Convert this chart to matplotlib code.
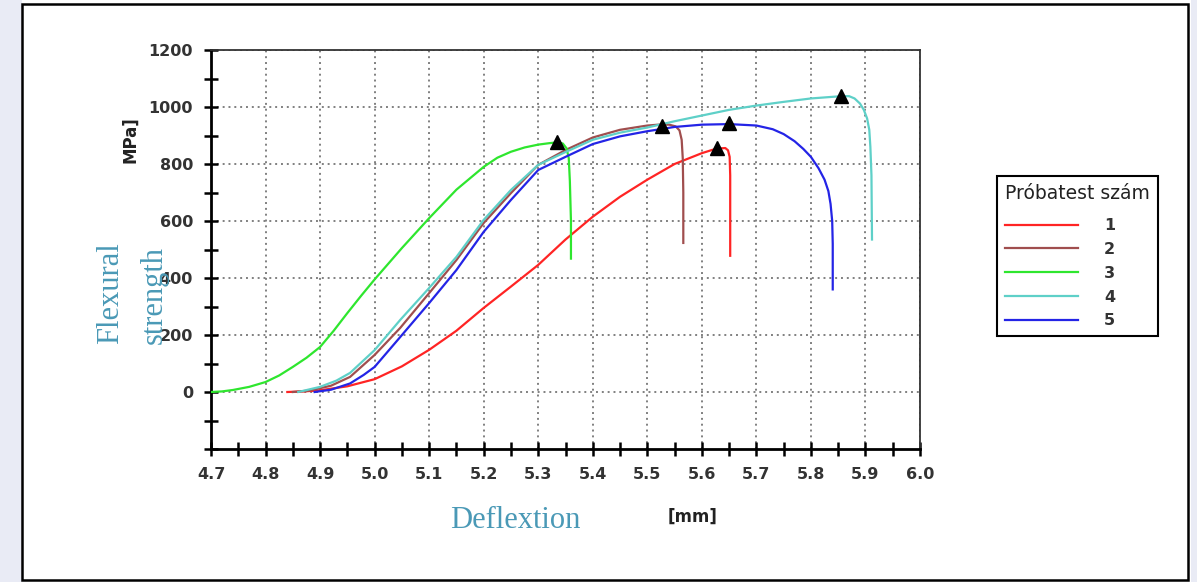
from matplotlib import pyplot as plt
from matplotlib.patches import Rectangle
from matplotlib.ticker import MultipleLocator, FormatStrFormatter

# specimen curves: deflection [mm] vs stress [MPa]
x1 = [4.84, 4.87, 4.90, 4.95, 5.00, 5.05, 5.10, 5.15, 5.20, 5.25, 5.30, 5.35, 5.40,
      5.45, 5.50, 5.55, 5.60, 5.62, 5.635, 5.643, 5.648, 5.651, 5.652, 5.652]
y1 = [0, 2, 6, 20, 45, 90, 148, 215, 295, 370, 446, 535, 615,
      685, 745, 800, 838, 850, 855, 856, 848, 825, 760, 478]

x2 = [4.85, 4.88, 4.92, 4.955, 5.00, 5.047, 5.10, 5.15, 5.20, 5.25, 5.30, 5.35, 5.40,
      5.45, 5.50, 5.52, 5.54, 5.552, 5.559, 5.563, 5.565, 5.566, 5.566]
y2 = [0, 5, 22, 53, 130, 225, 347, 463, 593, 698, 797, 849, 893,
      920, 935, 938, 938, 932, 918, 885, 820, 700, 523]

x3 = [4.70, 4.72, 4.74, 4.77, 4.80, 4.825, 4.85, 4.875, 4.90, 4.925, 4.95, 4.975,
      5.00, 5.05, 5.10, 5.15, 5.20, 5.225, 5.25, 5.275, 5.30, 5.32, 5.335, 5.345,
      5.352, 5.356, 5.358, 5.36, 5.36]
y3 = [0, 2, 7, 18, 35, 58, 88, 120, 158, 215, 277, 337,
      395, 505, 610, 710, 790, 822, 843, 858, 868, 873, 876, 872,
      855, 820, 740, 600, 468]

x4 = [4.86, 4.90, 4.93, 4.955, 5.00, 5.047, 5.10, 5.15, 5.20, 5.25, 5.30, 5.35, 5.40,
      5.45, 5.50, 5.55, 5.60, 5.65, 5.70, 5.75, 5.80, 5.856, 5.87, 5.88, 5.89,
      5.897, 5.903, 5.907, 5.909, 5.911, 5.912]
y4 = [0, 18, 40, 67, 147, 253, 365, 474, 604, 709, 797, 842, 885,
      910, 928, 950, 970, 990, 1005, 1018, 1030, 1038, 1038, 1030, 1012,
      990, 960, 920, 860, 760, 535]

x5 = [4.89, 4.92, 4.955, 4.98, 5.00, 5.047, 5.10, 5.15, 5.20, 5.25, 5.30, 5.35, 5.40,
      5.45, 5.50, 5.55, 5.60, 5.65, 5.70, 5.73, 5.75, 5.77, 5.786, 5.80, 5.814,
      5.825, 5.832, 5.836, 5.839, 5.840, 5.840]
y5 = [0, 8, 30, 60, 88, 193, 312, 428, 562, 674, 779, 825, 870,
      897, 915, 930, 938, 940, 935, 922, 905, 880, 853, 825, 785,
      745, 705, 660, 600, 520, 360]

# max points (triangles)
peak_x = [5.627, 5.527, 5.335, 5.856, 5.65]
peak_y = [855, 932, 878, 1038, 944]

labels = ['1', '2', '3', '4', '5']
colors = ['#ff2424', '#a04e4e', '#2ee62e', '#5ed0c8', '#2424e6']

W, H = 1197, 582
fig = plt.figure(figsize=(W / 100, H / 100), dpi=100)
fig.patch.set_facecolor('white')

# page frame
fig.patches.append(Rectangle((0, 0), 22 / W, 1, transform=fig.transFigure,
                             facecolor='#e9ebf5', edgecolor='none', zorder=0))
fig.patches.append(Rectangle((1191 / W, 0), 6 / W, 1, transform=fig.transFigure,
                             facecolor='#e9ebf5', edgecolor='none', zorder=0))
fig.patches.append(Rectangle((22 / W, 1 - 580 / H), 1166 / W, 576 / H,
                             transform=fig.transFigure, facecolor='none',
                             edgecolor='black', linewidth=1.8, zorder=1))

ax = fig.add_axes([211 / W, 1 - 449 / H, 709 / W, 399 / H])

for xs, ys, lab, c in zip([x1, x2, x3, x4, x5], [y1, y2, y3, y4, y5], labels, colors):
    ax.plot(xs, ys, color=c, linewidth=1.6, label=lab, zorder=3)

ax.plot(peak_x, peak_y, linestyle='none', marker='^', markersize=10,
        color='black', zorder=4)

ax.set_xlim(4.7, 6.0)
ax.set_ylim(-200, 1200)
ax.set_yticks(range(0, 1201, 200))
ax.xaxis.set_major_locator(MultipleLocator(0.1))
ax.xaxis.set_minor_locator(MultipleLocator(0.05))
ax.yaxis.set_minor_locator(MultipleLocator(100))
ax.xaxis.set_major_formatter(FormatStrFormatter('%.1f'))

ax.grid(True, which='major', linestyle=(0, (1, 2)), color='#808080', linewidth=1.4)
ax.set_axisbelow(True)

for s in ['left', 'bottom']:
    ax.spines[s].set_linewidth(2)
    ax.spines[s].set_color('black')
for s in ['top', 'right']:
    ax.spines[s].set_linewidth(1.3)
    ax.spines[s].set_color('#333333')

ax.tick_params(which='both', direction='inout', length=10, width=1.8,
               color='black', top=False, right=False)
ax.tick_params(which='major', labelsize=11.5, labelcolor='#333333', pad=8)
for t in ax.get_xticklabels() + ax.get_yticklabels():
    t.set_fontweight('bold')

leg = ax.legend(title='Próbatest szám', loc='upper left',
                bbox_to_anchor=(997 / W, 1 - 176 / H), bbox_transform=fig.transFigure,
                fontsize=11.5, title_fontsize=13.5, handlelength=4.6, handletextpad=1.6,
                labelspacing=0.55, borderpad=0.5, borderaxespad=0, fancybox=False,
                framealpha=1, edgecolor='black', alignment='left')
leg._legend_box.sep = 11
leg.get_frame().set_linewidth(1.5)
for t in leg.get_texts():
    t.set_fontweight('bold')
    t.set_color('#333333')
leg.get_title().set_color('#222222')


def px(x, y):
    return x / W, 1 - y / H


teal = '#4a99b6'
fig.text(*px(130, 140), 'MPa]', rotation=90, ha='center', va='center',
         fontsize=12, fontweight='bold', color='#222222')
fig.text(*px(111, 293), 'Flexural', rotation=90, ha='center', va='center',
         fontsize=22, family='Liberation Serif', color=teal)
fig.text(*px(154, 295), 'strength', rotation=90, ha='center', va='center',
         fontsize=22, family='Liberation Serif', color=teal)
fig.text(*px(515, 520), 'Deflextion', ha='center', va='center',
         fontsize=22, family='Liberation Serif', color=teal)
fig.text(*px(693, 517), '[mm]', ha='center', va='center',
         fontsize=12, fontweight='bold', color='#222222')

fig.savefig('out.png', dpi=100)
